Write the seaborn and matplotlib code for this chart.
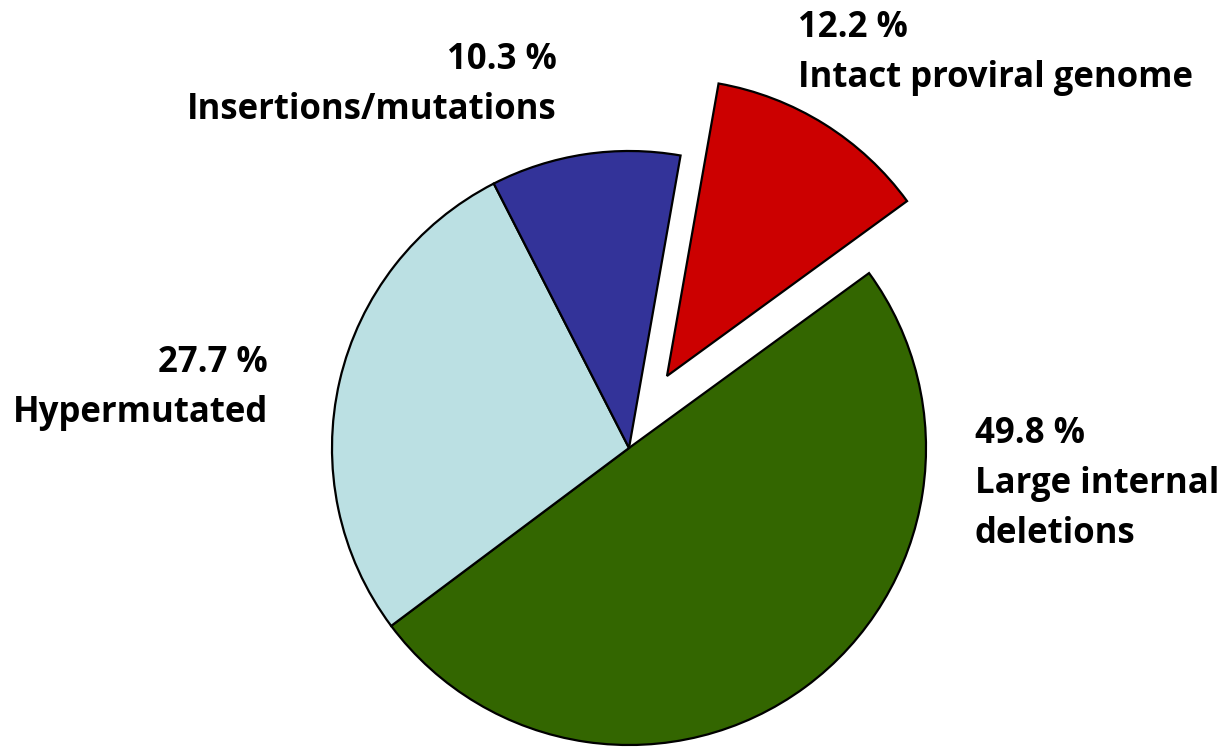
import matplotlib
matplotlib.use("Agg")
import matplotlib.pyplot as plt
import seaborn as sns

# Proviral genome categories, in clockwise order starting from the top
categories = ["Intact proviral genome", "Large internal\ndeletions",
              "Hypermutated", "Insertions/mutations"]
shares = [12.2, 49.8, 27.7, 10.3]
colors = ["#CC0000", "#336600", "#BBE0E3", "#333399"]
explode_frac = [0.27, 0.0, 0.0, 0.0]

sns.set_theme(style="white", palette=sns.color_palette(colors))
plt.rcParams["font.family"] = ["Open Sans", "DejaVu Sans"]

W, H = 1218, 747
fig = plt.figure(figsize=(W / 100, H / 100), dpi=100)
ax = fig.add_axes([0, 0, 1, 1])

cx, cy, r = 629, H - 448, 297
# pie offsets wedges in data units, so scale by the radius
wedges, _ = ax.pie(shares, colors=colors, explode=[e * r for e in explode_frac],
                   startangle=80, counterclock=False, center=(cx, cy), radius=r,
                   wedgeprops=dict(edgecolor="black", linewidth=1.6))
# pull the highlighted wedge out slightly more upward than its bisector
wedges[0].set_center((cx + 38, cy + 72))
ax.set_xlim(0, W)
ax.set_ylim(0, H)
ax.set_aspect("equal")
ax.axis("off")

# Label placement: (x, baseline of first line, alignment)
label_pos = [(798, 37, "left"), (975, 443, "left"),
             (268, 372, "right"), (557, 69, "right")]
line_gap = 50
for name, val, (x, yb, ha) in zip(categories, shares, label_pos):
    lines = [f"{val:.1f} %"] + name.split("\n")
    for i, line in enumerate(lines):
        ax.text(x, H - (yb + i * line_gap), line, ha=ha, va="baseline",
                fontsize=25, fontweight="bold", color="black")

fig.savefig("out.png", dpi=100)
